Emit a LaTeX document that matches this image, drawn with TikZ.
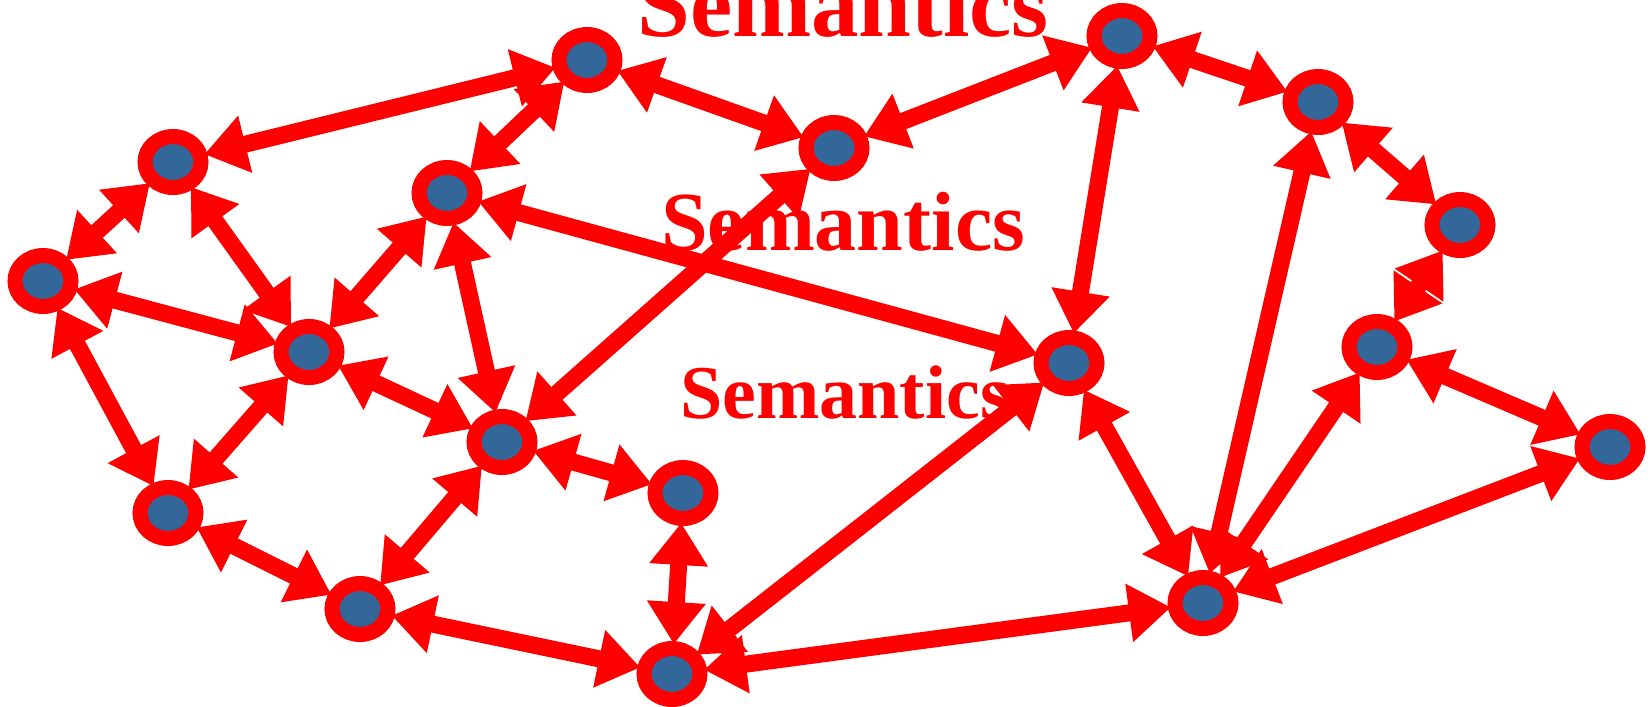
\documentclass[tikz,border=0pt]{standalone}
\usepackage{fontspec}
\setmainfont{Liberation Serif}
\usetikzlibrary{shapes.geometric,arrows.meta}
\definecolor{nodeblue}{RGB}{51,102,153}
\tikzset{
  vert/.style={ellipse, draw=red, line width=15pt, fill=nodeblue, minimum width=56pt, minimum height=51pt, inner sep=0pt, outer sep=4.5pt},
  link/.style={draw=red, line width=17pt, {Triangle[length=42pt,width=56pt]}-{Triangle[length=42pt,width=56pt]}},
  sem/.style={text=red, font=\bfseries, anchor=base, inner sep=0pt}
}
\begin{document}
\begin{tikzpicture}[x=1pt,y=-1pt]
\useasboundingbox (0,0) rectangle (1650,707);
\node[vert] (n1) at (43,281) {};
\node[vert] (n2) at (173,162) {};
\node[vert] (n3) at (587,60) {};
\node[vert] (n4) at (834,148) {};
\node[vert] (n5) at (1122,36) {};
\node[vert] (n6) at (1318,102) {};
\node[vert] (n7) at (1460,225) {};
\node[vert] (n8) at (1377,347) {};
\node[vert] (n9) at (1610,447) {};
\node[vert] (n10) at (1203,603) {};
\node[vert] (n11) at (1069,363) {};
\node[vert] (n12) at (672,674) {};
\node[vert] (n13) at (683,493) {};
\node[vert] (n14) at (502,442) {};
\node[vert] (n15) at (360,609) {};
\node[vert] (n16) at (168,513) {};
\node[vert] (n17) at (309,352) {};
\node[vert] (n18) at (447,193) {};

\node[sem] (t1) at (843,36) {\fontsize{95}{110}\selectfont Semantics};
\node[sem] (t2) at (843,250) {\fontsize{84}{100}\selectfont Semantics};
\node[sem] (t3) at (845,418) {\fontsize{76}{90}\selectfont Semantics};

\foreach \a/\b in {n1/n2, n1/n17, n1/n16, n2/n3, n2/n17, n16/n17, n17/n18, n17/n14,
  n18/n3, n18/n14, n18/n11, n14/n4, n14/n13, n14/n15, n15/n16, n15/n12, n12/n13,
  n12/n11, n12/n10, n3/n4, n4/n5, n5/n6, n5/n11, n6/n7, n6/n10, n7/n8, n8/n10,
  n8/n9, n9/n10, n10/n11}
  \path[link] (\a) -- (\b);
\end{tikzpicture}
\end{document}
